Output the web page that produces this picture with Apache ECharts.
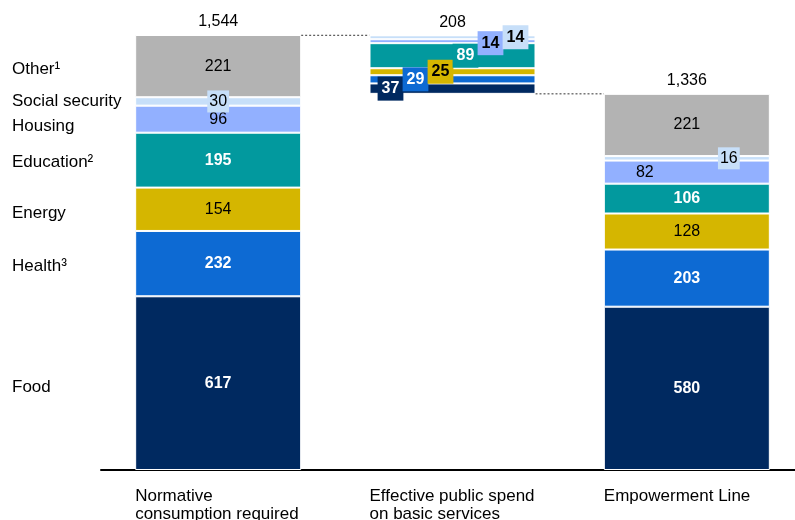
<!DOCTYPE html>
<html>
<head>
<meta charset="utf-8">
<script src="https://cdn.jsdelivr.net/npm/echarts@6/dist/echarts.min.js"></script>
<style>html,body{margin:0;padding:0;background:#fff}</style>
</head>
<body>
<div id="main" style="width:795px;height:520px"></div>
<script>
// categories on the x axis
const categories = ['Normative\nconsumption required', 'Effective public spend\non basic services', 'Empowerment Line'];
// stacked segments, bottom to top
const segmentNames = ['Food', 'Health³', 'Energy', 'Education²', 'Housing', 'Social security', 'Other¹'];
const food = [617, 37, 580];
const health = [232, 29, 203];
const energy = [154, 25, 128];
const education = [195, 89, 106];
const housing = [96, 14, 82];
const socialSecurity = [30, 14, 16];
const other = [221, 0, 221];
// invisible base so the middle bar floats (waterfall)
const baseOffset = [0, 1336, 0];
const totals = ['1,544', '208', '1,336'];

const FONT = '"Liberation Sans", Arial, sans-serif';
const BAR_W = 166;
const segments = [food, health, energy, education, housing, socialSecurity, other];

// colours / label look per segment
const segStyle = [
  { color: '#002960', text: '#fff', bold: true },
  { color: '#0D6AD3', text: '#fff', bold: true },
  { color: '#D5B600', text: '#000', bold: false },
  { color: '#02999E', text: '#fff', bold: true },
  { color: '#92B0FF', text: '#000', bold: false },
  { color: '#C7DFF9', text: '#000', bold: false },
  { color: '#B3B3B3', text: '#000', bold: false }
];
const midOffsets = [[-62, 0], [-37, 0], [-12, 0], [13, 0], [38, 2], [63, 0], [0, 0]];
const midTextColor = ['#fff', '#fff', '#000', '#fff', '#000', '#000', '#000'];
const leftNudge = [4, 3, 4, 2, 7, 0, 3];

const series = [{
  type: 'bar', stack: 'total', barWidth: BAR_W, silent: true,
  itemStyle: { color: 'transparent' }, data: baseOffset
}];

segments.forEach(function (vals, i) {
  const st = segStyle[i];
  const data = vals.map(function (v, c) {
    const item = { value: v };
    if (c === 1) {
      if (v === 0) {
        item.label = { show: false };
      } else {
        item.label = {
          offset: midOffsets[i], backgroundColor: st.color, fontWeight: 'bold',
          color: midTextColor[i], padding: [4, 4], lineHeight: 16
        };
      }
    } else if (i === 5) {
      item.label = { backgroundColor: st.color, padding: [3, 2], lineHeight: 16, offset: c === 2 ? [42, 0] : [0, 0] };
    } else if (i === 4 && c === 2) {
      item.label = { offset: [-42, 0] };
    }
    return item;
  });
  series.push({
    name: segmentNames[i], type: 'bar', stack: 'total', barWidth: BAR_W,
    itemStyle: { color: st.color, borderColor: '#fff', borderWidth: 1 },
    label: {
      show: true, position: 'inside', color: st.text, fontSize: 16, fontFamily: FONT,
      fontWeight: st.bold ? 'bold' : 'normal'
    },
    data: data
  });
});

// stack tops for the totals
const stackTop = categories.map(function (c, k) {
  let s = baseOffset[k];
  segments.forEach(function (vals) { s += vals[k]; });
  return s;
});

series.push({
  type: 'scatter', symbolSize: 0, silent: true,
  itemStyle: { opacity: 1 },
  label: {
    show: true, position: 'top', distance: 5, color: '#000', fontSize: 16, fontFamily: FONT, opacity: 1,
    formatter: function (p) { return totals[p.dataIndex]; }
  },
  data: stackTop.map(function (v, k) { return [k, v]; })
});

const chart = echarts.init(document.getElementById('main'));
chart.setOption({
  animation: false,
  textStyle: { fontFamily: FONT },
  grid: { left: 101, width: 703, top: 35, bottom: 50, outerBoundsMode: 'none', containLabel: false },
  xAxis: {
    type: 'category', data: categories,
    axisLine: { lineStyle: { color: '#000', width: 2 } },
    axisTick: { show: false },
    axisLabel: {
      interval: 0, margin: 17, color: '#000',
      formatter: function (v) {
        return v.split('\n').map(function (s) { return '{a|' + s + '}'; }).join('\n');
      },
      rich: { a: { width: BAR_W, align: 'left', fontSize: 17, lineHeight: 18, color: '#000', fontFamily: FONT } }
    }
  },
  yAxis: { type: 'value', show: false, min: 0, max: 1545 },
  series: series
});

// connectors and segment names, placed from the chart's own scales
const px = function (c, v) { return chart.convertToPixel({ gridIndex: 0 }, [c, v]); };
const graphics = [];
const conn = [[0, 1, stackTop[1]], [1, 2, stackTop[2]]];
conn.forEach(function (cn) {
  const a = px(cn[0], cn[2]);
  const b = px(cn[1], cn[2]);
  graphics.push({
    type: 'line', silent: true,
    shape: { x1: a[0] + BAR_W / 2, y1: a[1], x2: b[0] - BAR_W / 2, y2: b[1] },
    style: { stroke: '#333', lineDash: [2, 2], lineWidth: 1 }
  });
});
let cum = 0;
segments.forEach(function (vals, i) {
  const mid = cum + vals[0] / 2;
  cum += vals[0];
  const p = px(0, mid);
  graphics.push({
    type: 'text', silent: true, x: 12, y: p[1] + leftNudge[i],
    style: { text: segmentNames[i], fill: '#000', fontSize: 17, fontFamily: FONT, verticalAlign: 'middle', align: 'left' }
  });
});
chart.setOption({ graphic: graphics });
</script>
</body>
</html>
